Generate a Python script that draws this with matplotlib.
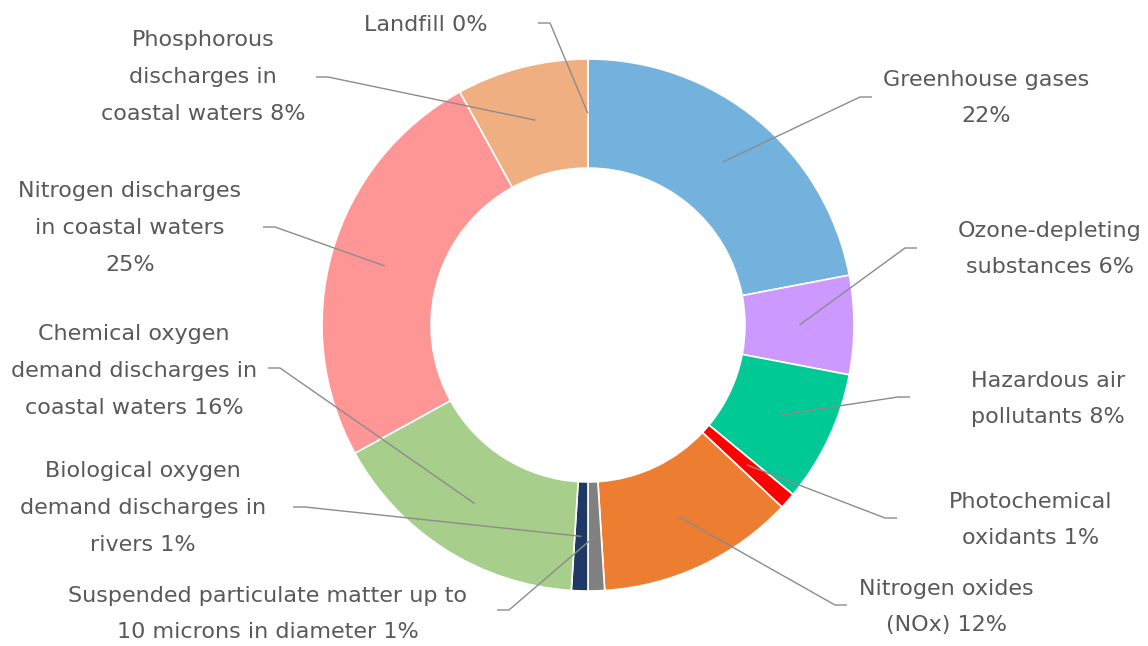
import numpy as np
import matplotlib.pyplot as plt

# pollutant categories, clockwise from 12 o'clock
names = ["Greenhouse gases", "Ozone-depleting\nsubstances", "Hazardous air\npollutants",
         "Photochemical\noxidants", "Nitrogen oxides\n(NOx)",
         "Suspended particulate matter up to\n10 microns in diameter",
         "Biological oxygen\ndemand discharges in\nrivers",
         "Chemical oxygen\ndemand discharges in\ncoastal waters",
         "Nitrogen discharges\nin coastal waters", "Phosphorous\ndischarges in\ncoastal waters",
         "Landfill"]
shares = [22, 6, 8, 1, 12, 1, 1, 16, 25, 8, 0]
pct_sep = ["\n", " ", " ", " ", " ", " ", " ", " ", "\n", " ", " "]
colors = ["#72B2DC", "#CC99FF", "#00C996", "#FF0000", "#ED7D31", "#808080",
          "#203864", "#A7CE8B", "#FF9696", "#F0AF80", "#F0AF80"]

# label layout in pixels (text centre, end of leader line)
text_pos = [(986, 98), (1050, 249), (1048, 399), (1031, 520), (946, 607), (268, 614),
            (143, 508), (134, 371), (130, 228), (203, 77), (426, 25)]
leader_end = [(872, 97), (917, 248), (910, 397), (897, 518), (847, 605), (497, 610),
              (293, 507), (268, 368), (263, 227), (316, 77), (538, 23)]

W, H = 1148, 646
cx, cy, R = 588, 325, 266


def px(p):
    return ((p[0] - cx) / R, (cy - p[1]) / R)


fig = plt.figure(figsize=(W / 100, H / 100), dpi=100)
ax = fig.add_axes([0, 0, 1, 1])
wedges, _ = ax.pie(shares, colors=colors, startangle=90, counterclock=False, radius=1,
                   wedgeprops=dict(width=0.41, edgecolor="white", linewidth=1.2))
ax.set_xlim(-cx / R, (W - cx) / R)
ax.set_ylim(-(H - cy) / R, cy / R)
ax.set_aspect("equal")
ax.axis("off")

for i, w in enumerate(wedges):
    mid = np.deg2rad((w.theta1 + w.theta2) / 2)
    r = 0.795
    ax_, ay_ = r * np.cos(mid), r * np.sin(mid)
    ex, ey = px(leader_end[i])
    # short horizontal stub next to the label
    kx = ex - 12 / R if ex > 0 else ex + 12 / R
    ax.plot([ax_, kx, ex], [ay_, ey, ey], color="#8C8C8C", lw=1.0, solid_capstyle="butt")
    tx, ty = px(text_pos[i])
    ax.text(tx, ty, f"{names[i]}{pct_sep[i]}{shares[i]}%", ha="center", va="center",
            fontsize=16, color="#595959", linespacing=2.05)

fig.savefig("out.png", dpi=100)
